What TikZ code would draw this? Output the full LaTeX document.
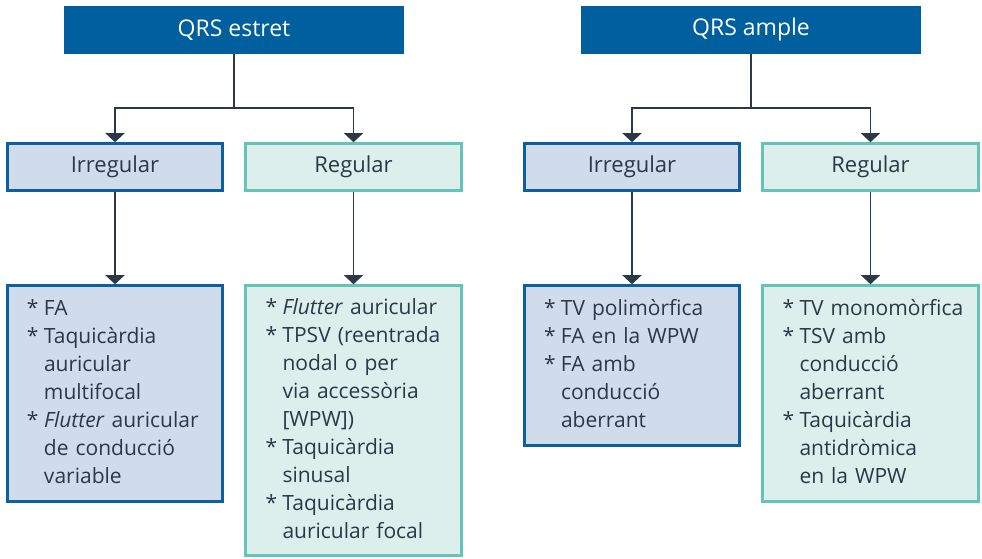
\documentclass[tikz,border=0pt]{standalone}
\usepackage{fontspec}
\setmainfont{Open Sans}
\usetikzlibrary{arrows.meta,positioning}
\definecolor{qrsblue}{RGB}{0,95,158}
\definecolor{irrfill}{RGB}{208,220,235}
\definecolor{irrline}{RGB}{12,96,160}
\definecolor{regfill}{RGB}{221,239,237}
\definecolor{regline}{RGB}{100,196,184}
\definecolor{ink}{RGB}{43,56,70}
\newcommand{\lst}[1]{\begin{tabular}{@{}p{17pt}@{}l@{}}#1\end{tabular}}
\newcommand{\bul}{{*}}

\begin{document}
\begin{tikzpicture}[x=1pt,y=-1pt,
    txt/.style={inner sep=0pt,text=ink,font=\fontsize{22}{28}\selectfont},
    top/.style={txt,fill=qrsblue,text=white,font=\fontsize{23}{28}\selectfont,minimum width=340pt,minimum height=48pt},
    irr/.style={txt,fill=irrfill,draw=irrline,line width=2.6pt,minimum width=215pt,minimum height=47pt},
    reg/.style={txt,fill=regfill,draw=regline,line width=2.6pt,minimum width=216pt,minimum height=47pt},
    lst/.style={text width=176pt,align=left,font=\fontsize{21}{28}\selectfont},
    conn/.style={draw=ink,line width=1.3pt,-{Triangle[width=19pt,length=9pt]}}]
  \useasboundingbox (0,0) rectangle (982,558);

  % QRS estret
  \node[top] (estret) at (234,30) {QRS estret};
  \node[irr] (irrA) at (115,167) {Irregular};
  \node[reg] (regA) at (353.5,167) {Regular};
  \node[irr,lst,minimum height=216pt] (lirrA) at (115,393.5) {\lst{
    \bul & FA\\
    \bul & Taquicàrdia\\
      & auricular\\
      & multifocal\\
    \bul & \textit{Flutter} auricular\\
      & de conducció\\
      & variable}};
  \node[reg,lst,minimum height=270pt] (lregA) at (353.5,420.5) {\lst{
    \bul & \textit{Flutter} auricular\\
    \bul & TPSV (reentrada\\
      & nodal o per\\
      & via accessòria\\
      & [WPW])\\
    \bul & Taquicàrdia\\
      & sinusal\\
    \bul & Taquicàrdia\\
      & auricular focal}};

  % QRS ample
  \node[top] (ample) at (751,30) {QRS ample};
  \node[irr] (irrB) at (632,167) {Irregular};
  \node[reg] (regB) at (870.5,167) {Regular};
  \node[irr,lst,minimum height=160pt] (lirrB) at (632,365.5) {\lst{
    \bul & TV polimòrfica\\
    \bul & FA en la WPW\\
    \bul & FA amb\\
      & conducció\\
      & aberrant}};
  \node[reg,lst,minimum height=216pt] (lregB) at (870.5,393.5) {\lst{
    \bul & TV monomòrfica\\
    \bul & TSV amb\\
      & conducció\\
      & aberrant\\
    \bul & Taquicàrdia\\
      & antidròmica\\
      & en la WPW}};

  \coordinate (jA) at (estret.south |- 0,108);
  \coordinate (jB) at (ample.south |- 0,108);
  \draw[conn] (estret.south) -- (jA) -| (irrA.north);
  \draw[conn] (jA) -| (regA.north);
  \draw[conn] (ample.south) -- (jB) -| (irrB.north);
  \draw[conn] (jB) -| (regB.north);
  \draw[conn] (irrA) -- (lirrA);
  \draw[conn] (regA) -- (lregA);
  \draw[conn] (irrB) -- (lirrB);
  \draw[conn] (regB) -- (lregB);
\end{tikzpicture}
\end{document}
